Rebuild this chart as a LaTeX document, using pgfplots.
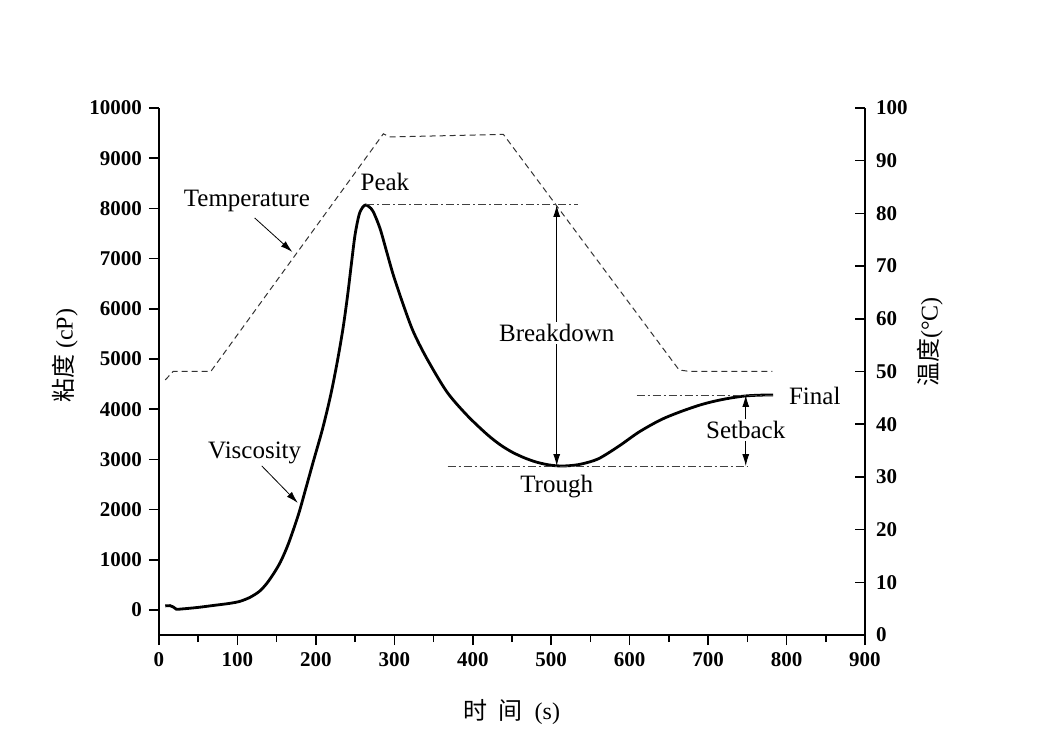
\documentclass[border=0pt]{standalone}
\usepackage{pgfplots}
\pgfplotsset{compat=1.18}
\usepackage{fontspec}
\setmainfont{Liberation Serif}
\newfontfamily\cjk{Noto Sans CJK SC}
\usetikzlibrary{arrows.meta}
\begin{document}
\begin{tikzpicture}
\useasboundingbox (-79.5pt,-49.5pt) rectangle (440pt,317.5pt);
\pgfplotsset{
  common/.style={
    scale only axis, width=353pt, height=263.5pt,
    xmin=0, xmax=900,
    scaled ticks=false,
    /pgf/number format/assume math mode=true,
    /pgf/number format/1000 sep={},
    tick label style={font=\fontsize{10.5}{12}\selectfont\bfseries},
    axis line style={line width=0.9pt},
    major tick length=5pt, minor tick length=3.5pt,
    every tick/.style={line width=0.8pt, black},
    label style={font=\fontsize{12}{14}\selectfont},
  }
}
\begin{axis}[common,
  axis x line*=bottom, axis y line*=left,
  tick align=outside,
  ymin=-500, ymax=10000,
  xtick={0,100,...,900}, minor x tick num=1,
  ytick={0,1000,...,10000},
  xlabel={{\cjk 时\ \ 间}\ \ (s)},
  xlabel style={at={(axis description cs:0.5,-0.146)}, anchor=center},
  ylabel={{\cjk 粘度}\ (cP)},
  ylabel style={at={(axis description cs:-0.133,0.53)}, anchor=center},
  clip=false,
]
\addplot[black, line width=1.4pt, smooth, tension=0.5] coordinates {
(8,80) (14,85) (18,60) (22,15) (30,20) (50,50) (70,90) (90,130) (103,170)
(116,250) (128,370) (137,520) (146,720) (155,960) (165,1320) (177.6,1892)
(187,2410) (196.7,2955) (208.7,3618) (218.9,4283) (227.3,4946) (234.6,5611)
(240.5,6275) (245.6,6938) (249.9,7470) (255,7869) (259.5,8020) (263.5,8068)
(268,8030) (273.1,7935) (281.7,7603) (290.2,7138) (298.7,6673) (311.5,6076)
(324.2,5544) (341.3,5013) (366.8,4349) (392.3,3884) (418,3500) (435,3290)
(450,3145) (465,3035) (480,2950) (495,2895) (508,2870) (522,2872) (538,2905)
(560,3010) (586,3260) (612,3545) (640,3790) (665,3950) (690,4084) (710,4165)
(728,4220) (747,4262) (765,4278) (783,4283)
};
% annotation lines
\addplot[black!75, line width=0.4pt, dash pattern=on 4pt off 1.5pt on 1pt off 1.5pt] coordinates {(264,8070) (534,8070)};
\addplot[black!75, line width=0.4pt, dash pattern=on 4pt off 1.5pt on 1pt off 1.5pt] coordinates {(368,2865) (750,2865)};
\addplot[black!75, line width=0.4pt, dash pattern=on 4pt off 1.5pt on 1pt off 1.5pt] coordinates {(609,4283) (783,4283)};
\draw[line width=0.5pt, {Latex[length=6pt,width=3.5pt]}-{Latex[length=6pt,width=3.5pt]}] (axis cs:507,2865) -- (axis cs:507,8070);
\draw[line width=0.5pt, {Latex[length=6pt,width=3.5pt]}-{Latex[length=6pt,width=3.5pt]}] (axis cs:748,2865) -- (axis cs:748,4283);
\node[fill=white, inner sep=1pt, font=\fontsize{12.5}{14}\selectfont] at (axis cs:507,5520) {Breakdown};
\node[fill=white, inner sep=1pt, font=\fontsize{12.5}{14}\selectfont] at (axis cs:748,3590) {Setback};
\node[font=\fontsize{12.5}{14}\selectfont] at (axis cs:288,8526) {Peak};
\node[font=\fontsize{12.5}{14}\selectfont] at (axis cs:507,2450) {Trough};
\node[font=\fontsize{12.5}{14}\selectfont] at (axis cs:836,4263) {Final};
\node[font=\fontsize{12.5}{14}\selectfont] at (axis cs:112,8147) {Temperature};
\node[font=\fontsize{12.5}{14}\selectfont] at (axis cs:122,3127) {Viscosity};
\draw[line width=0.4pt, -{Latex[length=6pt,width=3.5pt]}] (axis cs:122,7809) -- (axis cs:170,7131);
\draw[line width=0.4pt, -{Latex[length=6pt,width=3.5pt]}] (axis cs:131,2869) -- (axis cs:177,2131);
\end{axis}
\begin{axis}[common,
  axis x line=none, axis y line*=right,
  tick align=inside,
  ymin=0, ymax=100,
  ytick={0,10,...,100},
  yticklabel style={xshift=2pt},
  ylabel={{\cjk 温度}(°C)},
  ylabel style={at={(axis description cs:1.092,0.556)}, anchor=center},
]
\addplot[black!80, line width=0.5pt, dash pattern=on 3pt off 2pt] coordinates {
(8,48.4) (18,50) (66,50) (286,95.1) (294,94.5) (439,95) (663,50.3) (677,50) (782,50)
};
\end{axis}
\end{tikzpicture}
\end{document}
